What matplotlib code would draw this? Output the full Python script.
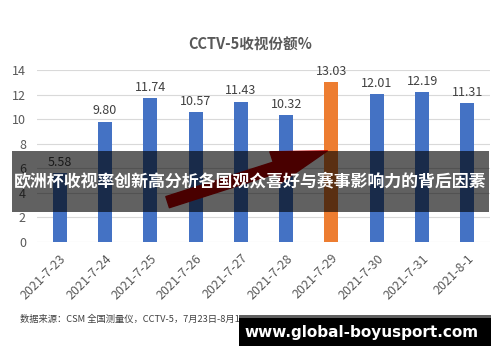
import matplotlib.pyplot as plt
from matplotlib.patches import Rectangle, FancyArrowPatch

plt.rcParams['font.family'] = ['Noto Sans CJK SC', 'DejaVu Sans']

dates = ['2021-7-23', '2021-7-24', '2021-7-25', '2021-7-26', '2021-7-27',
         '2021-7-28', '2021-7-29', '2021-7-30', '2021-7-31', '2021-8-1']
share = [5.58, 9.80, 11.74, 10.57, 11.43, 10.32, 13.03, 12.01, 12.19, 11.31]
highlight = '2021-7-29'

title = 'CCTV-5收视份额%'
source = '数据来源：CSM 全国测量仪，CCTV-5，7月23日-8月1日'
banner = '欧洲杯收视率创新高分析各国观众喜好与赛事影响力的背后因素'
site = 'www.global-boyusport.com'

W, H = 500, 362
fig = plt.figure(figsize=(5, 3.62), dpi=100)
ax = fig.add_axes([37 / W, 1 - 242 / H, 453 / W, 172 / H])

colors = ['#ED7D31' if d == highlight else '#4472C4' for d in dates]
x = range(len(dates))
bars = ax.bar(x, share, width=0.31, color=colors, zorder=2)
for b, v in zip(bars, share):
    ax.annotate(f'{v:.2f}', (b.get_x() + b.get_width() / 2, v),
                xytext=(0, 3), textcoords='offset points',
                ha='center', va='bottom', fontsize=9, color='#404040')

ax.set_xlim(-0.5, len(dates) - 0.5)
ax.set_ylim(0, 14)
ax.set_yticks(range(0, 15, 2))
ax.set_xticks(list(x))
ax.set_xticklabels(dates, rotation=45, ha='right', rotation_mode='anchor')
ax.tick_params(axis='both', length=0, labelsize=9, colors='#595959')
ax.tick_params(axis='x', pad=7)
ax.tick_params(axis='y', pad=8)
ax.grid(axis='y', color='#D9D9D9', linewidth=0.8, zorder=0)
for s in ax.spines.values():
    s.set_visible(False)

fig.text(0.5, 1 - 44 / H, title, ha='center', va='center', fontsize=10.5,
         fontweight='bold', color='#595959')
fig.text(20 / W, 1 - 319 / H, source, ha='left', va='center', fontsize=6.7,
         color='#404040')

# red arrow, mostly hidden under the banner
arrow = FancyArrowPatch((165 / W, 1 - 203 / H), (330 / W, 1 - 150 / H),
                        transform=fig.transFigure,
                        arrowstyle='simple,head_width=2.0,head_length=3.3,tail_width=0.7',
                        mutation_scale=12, color='#C00000', zorder=5)
fig.add_artist(arrow)

fig.add_artist(Rectangle((12 / W, 1 - 212 / H), 477 / W, 61 / H,
                         transform=fig.transFigure, facecolor='black',
                         alpha=0.62, edgecolor='none', zorder=6))
fig.text(250 / W, 1 - 181 / H, banner, ha='center', va='center', fontsize=12.2,
         fontweight='bold', color='white', zorder=7)

fig.add_artist(Rectangle((239 / W, 1 - 318 / H), 252 / W, 3 / H,
                         transform=fig.transFigure, facecolor='#606060',
                         edgecolor='none', zorder=6))
fig.add_artist(Rectangle((239 / W, 1 - 346 / H), 252 / W, 28 / H,
                         transform=fig.transFigure, facecolor='black',
                         edgecolor='none', zorder=6))
fig.text(362 / W, 1 - 332 / H, site, ha='center', va='center', fontsize=11,
         fontweight='bold', color='white', family=['DejaVu Sans'], zorder=7)

fig.savefig('out.png', dpi=100)
